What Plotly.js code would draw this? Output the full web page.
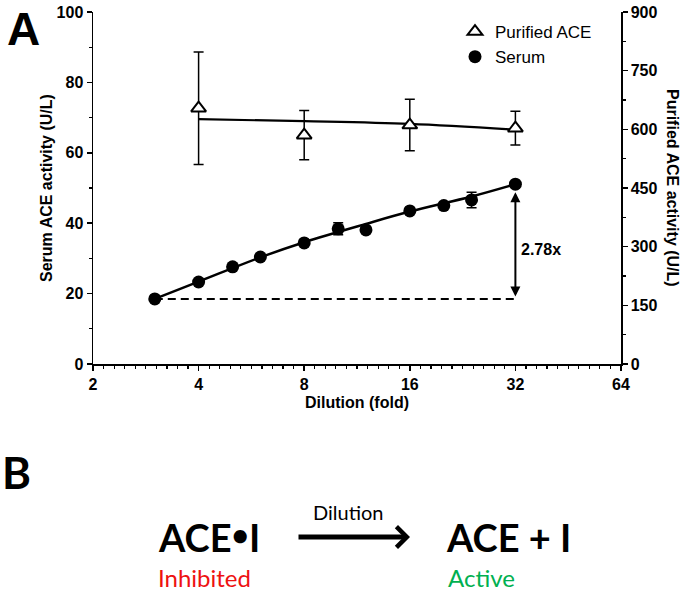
<!DOCTYPE html>
<html>
<head>
<meta charset="utf-8">
<script src="https://cdn.plot.ly/plotly-3.0.1.min.js"></script>
<style>
  html, body { margin: 0; padding: 0; background: #fff; }
  #chart { width: 687px; height: 596px; }
</style>
</head>
<body>
<div id="chart"></div>
<script>
// ---------- data ----------
const xTickValues = [2, 4, 8, 16, 32, 64];
const xTickLabels = ["2", "4", "8", "16", "32", "64"];

const serumDilution = [3, 4, 5, 6, 8, 10, 12, 16, 20, 24, 32];
const serumActivity = [18.5, 23.3, 27.6, 30.4, 34.4, 38.4, 38.1, 43.5, 45.0, 46.6, 51.1];
const serumSD = [0, 0, 0, 0, 0, 1.7, 0, 0, 0, 2.2, 0];

const purifiedDilution = [4, 8, 16, 32];
const purifiedActivity = [654, 585, 611, 603];
const purifiedSD = [144, 63, 66, 43];

const serumFitX = [3, 4, 6, 8, 12, 16, 24, 32];
const serumFitY = [18.5, 23.4, 30.3, 34.6, 39.8, 43.3, 47.6, 51.1];

const purifiedFitX = [4, 8, 16, 32];
const purifiedFitY = [626, 621, 614, 599];

const foldLabel = "2.78x";

// ---------- helpers ----------
const ARIAL = 'Arial, "Liberation Sans", sans-serif';
const CAL = 'Lato, "Open Sans", sans-serif';
const M = { l: 93, r: 66, t: 12, b: 232 };
const W = 687, H = 596;
const PW = W - M.l - M.r, PH = H - M.t - M.b;
const pxX = px => (px - M.l) / PW;
const pxY = py => (M.t + PH - py) / PH;

// minor tick positions on the log2 axis: 10 equal subdivisions per doubling
const minorX = [];
for (let k = 0; k < 5; k++) {
  for (let j = 1; j < 10; j++) minorX.push(2 * Math.pow(2, k + j / 10));
}

const traces = [
  {
    x: purifiedFitX, y: purifiedFitY, yaxis: 'y2', type: 'scatter', mode: 'lines',
    line: { color: 'black', width: 2.2, shape: 'spline' }, showlegend: false, hoverinfo: 'skip'
  },
  {
    x: serumFitX, y: serumFitY, type: 'scatter', mode: 'lines',
    line: { color: 'black', width: 2.5, shape: 'spline' }, showlegend: false, hoverinfo: 'skip'
  },
  {
    x: [serumDilution[0], serumDilution[serumDilution.length - 1]],
    y: [serumActivity[0], serumActivity[0]],
    type: 'scatter', mode: 'lines',
    line: { color: 'black', width: 2, dash: '8px,5px' }, showlegend: false, hoverinfo: 'skip'
  },
  {
    name: 'Purified ACE', x: purifiedDilution, y: purifiedActivity, yaxis: 'y2',
    type: 'scatter', mode: 'markers',
    marker: { symbol: 'triangle-up', size: 13, color: 'white', line: { color: 'black', width: 2 } },
    error_y: { type: 'data', array: purifiedSD, visible: true, color: 'black', thickness: 1.5, width: 5 }
  },
  {
    name: 'Serum', x: serumDilution, y: serumActivity,
    type: 'scatter', mode: 'markers',
    marker: { symbol: 'circle', size: 13, color: 'black' },
    error_y: { type: 'data', array: serumSD, visible: true, color: 'black', thickness: 1.5, width: 5 }
  }
];

const tickFont = { family: ARIAL, size: 16, color: 'black', weight: 'bold' };
const titleFont = { family: ARIAL, size: 16, color: 'black', weight: 'bold' };

const last = serumDilution.length - 1;

const layout = {
  width: W, height: H,
  margin: M,
  paper_bgcolor: 'white', plot_bgcolor: 'white',
  showlegend: true,
  legend: {
    x: pxX(455), y: pxY(14), xanchor: 'left', yanchor: 'top',
    bgcolor: 'rgba(0,0,0,0)', font: { family: ARIAL, size: 17, color: 'black' }
  },
  xaxis: {
    type: 'log', range: [Math.log10(2), Math.log10(64)],
    tickmode: 'array', tickvals: xTickValues, ticktext: xTickLabels,
    ticks: 'outside', ticklen: 5, tickwidth: 1.5, tickcolor: 'black',
    minor: { tickmode: 'array', tickvals: minorX, ticks: 'outside', ticklen: 3, tickwidth: 1.2, tickcolor: 'black' },
    showline: true, linecolor: 'black', linewidth: 1.5,
    showgrid: false, zeroline: false, tickfont: tickFont,
    title: { text: 'Dilution (fold)', font: titleFont, standoff: 5 }
  },
  yaxis: {
    range: [0, 100], tick0: 0, dtick: 20,
    ticks: 'outside', ticklen: 5, tickwidth: 1.5, tickcolor: 'black',
    minor: { dtick: 10, ticks: 'outside', ticklen: 3, tickwidth: 1.2, tickcolor: 'black' },
    showline: true, linecolor: 'black', linewidth: 1.5,
    showgrid: false, zeroline: false, tickfont: tickFont
  },
  yaxis2: {
    overlaying: 'y', side: 'right', anchor: 'x',
    range: [0, 900], tick0: 0, dtick: 150,
    ticks: 'outside', ticklen: 5, tickwidth: 1.5, tickcolor: 'black',
    minor: { dtick: 75, ticks: 'outside', ticklen: 3, tickwidth: 1.2, tickcolor: 'black' },
    showline: true, linecolor: 'black', linewidth: 1.5,
    showgrid: false, zeroline: false, tickfont: tickFont
  },
  annotations: [
    // left axis title
    {
      xref: 'paper', yref: 'paper', x: pxX(46), y: pxY(188), showarrow: false,
      text: 'Serum ACE activity (U/L)', textangle: -90, font: titleFont,
      xanchor: 'center', yanchor: 'middle'
    },
    // right axis title, reading top-to-bottom
    {
      xref: 'paper', yref: 'paper', x: pxX(673), y: pxY(188), showarrow: false,
      text: 'Purified ACE activity (U/L)', textangle: 90, font: titleFont,
      xanchor: 'center', yanchor: 'middle'
    },
    // double-headed arrow showing the fold change
    {
      xref: 'x', yref: 'y', axref: 'x', ayref: 'y',
      x: Math.log10(serumDilution[last]), y: serumActivity[last],
      ax: Math.log10(serumDilution[last]), ay: serumActivity[0],
      text: '', showarrow: true, arrowhead: 2, startarrowhead: 2, arrowside: 'end+start',
      arrowwidth: 2, arrowsize: 1, startarrowsize: 1, arrowcolor: 'black', standoff: 8, startstandoff: 1
    },
    {
      xref: 'x', yref: 'y', x: Math.log10(serumDilution[last]), y: 32.4,
      text: foldLabel, showarrow: false, xanchor: 'left', xshift: 4,
      font: { family: ARIAL, size: 16, color: 'black', weight: 'bold' }
    },
    // panel letters
    {
      xref: 'paper', yref: 'paper', x: pxX(23), y: pxY(29), showarrow: false,
      text: 'A', font: { family: ARIAL, size: 46, color: 'black', weight: 'bold' },
      xanchor: 'center', yanchor: 'middle'
    },
    {
      xref: 'paper', yref: 'paper', x: pxX(16), y: pxY(472), showarrow: false,
      text: 'B', font: { family: CAL, size: 44, color: 'black', weight: 'bold' },
      xanchor: 'center', yanchor: 'middle'
    },
    // scheme B
    {
      xref: 'paper', yref: 'paper', x: pxX(156), y: pxY(537), showarrow: false,
      text: 'ACE<span style="font-size:30px;baseline-shift:6px">•</span>I', font: { family: CAL, size: 38, color: 'black', weight: 'bold' },
      xanchor: 'left', yanchor: 'middle'
    },
    {
      xref: 'paper', yref: 'paper', x: pxX(444), y: pxY(537), showarrow: false,
      text: 'ACE + I', font: { family: CAL, size: 38, color: 'black', weight: 'bold' },
      xanchor: 'left', yanchor: 'middle'
    },
    {
      xref: 'paper', yref: 'paper', x: pxX(410), y: pxY(537), ax: -113, ay: 0,
      text: '', showarrow: true, arrowhead: 4, arrowwidth: 5, arrowsize: 0.8, arrowcolor: 'black'
    },
    {
      xref: 'paper', yref: 'paper', x: pxX(348), y: pxY(512), showarrow: false,
      text: 'Dilution', font: { family: CAL, size: 20, color: 'black' },
      xanchor: 'center', yanchor: 'middle'
    },
    {
      xref: 'paper', yref: 'paper', x: pxX(156), y: pxY(577), showarrow: false,
      text: 'Inhibited', font: { family: CAL, size: 24, color: '#ee1111' },
      xanchor: 'left', yanchor: 'middle'
    },
    {
      xref: 'paper', yref: 'paper', x: pxX(446), y: pxY(577), showarrow: false,
      text: 'Active', font: { family: CAL, size: 24, color: '#00b050' },
      xanchor: 'left', yanchor: 'middle'
    }
  ]
};

Plotly.newPlot('chart', traces, layout, { displayModeBar: false, staticPlot: true });
</script>
</body>
</html>
